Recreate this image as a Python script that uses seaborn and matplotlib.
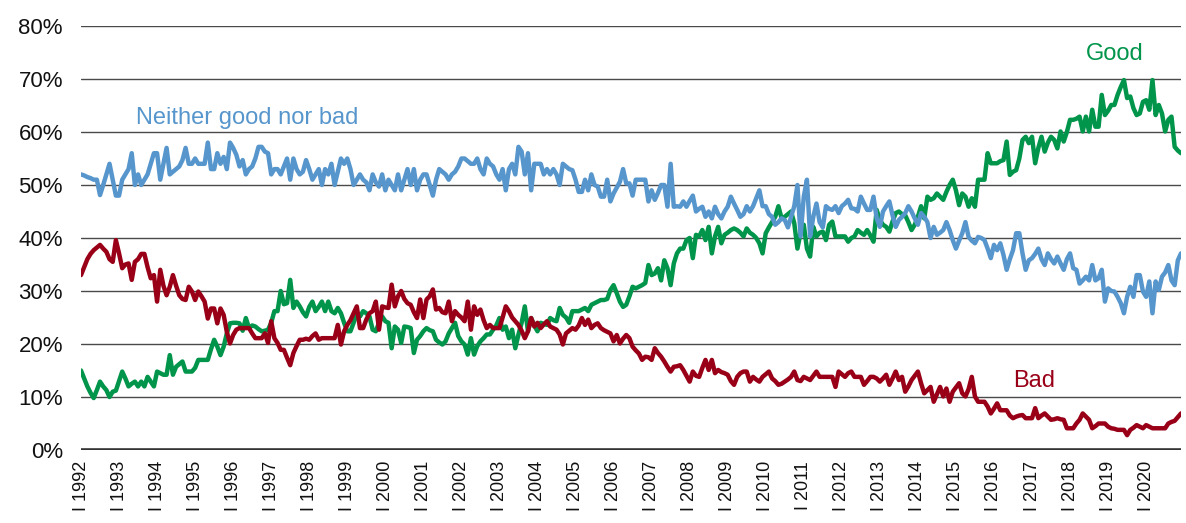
import numpy as np
import pandas as pd
import matplotlib
matplotlib.use("Agg")
import matplotlib.pyplot as plt
import seaborn as sns

# ---- data (monthly, Jan 1992 - Dec 2020), percent ----
good = [
    15, 13.5, 12, 10.8, 9.8, 11.3, 12.9, 12, 11.3, 10, 11, 11.2,
    13, 14.8, 13.5, 12, 12.5, 12.9, 12, 12.9, 12, 13.8, 12.9, 12,
    14.8, 14.5, 14.2, 14.2, 17.9, 14.2, 15.7, 16.2, 16.7, 14.8, 14.8, 14.8,
    15.5, 17, 17, 17, 17, 19, 20.8, 19.5, 17.9, 19.5, 22, 23.9,
    24, 24, 23.9, 22.5, 24.9, 23, 23.5, 23.3, 22.8, 22.4, 22.5, 22.7,
    24, 26.2, 26.2, 30, 27.5, 27.7, 32.1, 26.8, 28, 27.1, 26, 25.2,
    27, 28, 26.2, 27, 28, 26.2, 28, 26.2, 25.8, 26.8, 25.8, 24,
    22.4, 22.4, 24, 25.8, 25.2, 26.2, 25.8, 25.2, 22.7, 22.4, 24, 25.2,
    24.3, 24, 19.2, 23.3, 22.7, 20.2, 23.3, 23.2, 23, 18.3, 20.8, 21.5,
    22.4, 23, 22.6, 22.4, 20.8, 20.3, 19.9, 20.5, 22, 23, 24, 21.5,
    20.5, 19.9, 18, 21.1, 18, 19.6, 20.5, 21.1, 21.8, 21.8, 22.7, 23.5,
    24.9, 22.7, 23.3, 21.1, 22.7, 19.2, 21.8, 24, 27.1, 22.4, 24.9, 23.5,
    22.4, 24, 23.8, 23.6, 24.9, 24.5, 24.3, 26.8, 25.5, 25, 24, 26.2,
    26.2, 26.2, 26.5, 26.8, 26.2, 27.4, 27.7, 28, 28.3, 28.3, 28.5, 30.2,
    31.1, 29.6, 28, 27, 27.4, 29, 30.8, 30.5, 30.8, 31.1, 31.5, 34.9,
    33, 33.3, 34.3, 32, 35.8, 34.3, 31.1, 35.2, 37.1, 38, 38, 39.6,
    40, 36.2, 40.6, 40.3, 41.5, 39.6, 42.1, 37.1, 40.3, 42.1, 39, 40.6,
    41, 41.5, 41.8, 41.5, 41, 40.3, 41.8, 41, 40.6, 40, 39, 37.1,
    40.9, 42, 43, 44, 46, 43.7, 44, 44.5, 45, 42.8, 38, 41,
    42.5, 38, 36.5, 42.1, 40.3, 41, 41.2, 39.6, 42.5, 43.1, 40.3, 40.3,
    40.3, 40.3, 39.3, 40, 40.3, 41.5, 41, 40.6, 41.5, 40.5, 39.3, 45.3,
    43.4, 42.5, 42.1, 41.2, 43.1, 44.7, 45, 44.5, 44.3, 43, 41.5, 42.5,
    44, 46, 43.7, 47.8, 47.2, 47.5, 48.4, 47.8, 47.2, 48.7, 50, 51,
    49, 46.2, 48.4, 47.8, 45.9, 47.5, 45.9, 51, 51, 51, 56, 54.1,
    54.1, 54.1, 54.5, 54.7, 58.2, 51.9, 52.5, 52.8, 55, 58.5, 59.1, 57.9,
    59.1, 54.1, 57, 59.1, 56.3, 58, 59.1, 58.5, 56.9, 60.1, 58.2, 60,
    62.3, 62.3, 62.5, 62.9, 60.1, 62.9, 60.1, 64.2, 61, 61, 67, 63.2,
    64, 65.1, 65.1, 67, 68.5, 69.8, 66.4, 66.7, 64.5, 63.2, 63.5, 65.7,
    66, 64.2, 69.8, 63.2, 65.1, 63.5, 60.1, 62.3, 62.9, 57.2, 56.5, 56,
]

neither = [
    52, 51.8, 51.5, 51.3, 51, 51, 48.1, 50, 52, 54, 51, 48,
    48, 51, 52, 53, 56, 50, 52, 50, 51, 52, 54, 56,
    56, 51, 54, 57, 52, 52.5, 53, 53.5, 54.7, 57, 54, 54,
    55, 54, 54, 54, 58, 53, 53, 56, 54, 55.3, 53, 58,
    57, 55.7, 53.5, 54.7, 52, 53, 53.5, 55, 57.2, 57.2, 56.3, 56,
    52, 53, 53, 52, 53.5, 55, 51, 55, 53, 52, 52.5, 54.7,
    53, 51, 52, 53, 50, 53, 52, 54, 50, 52.5, 55, 54,
    55, 53, 50, 51, 52, 51, 50.5, 49, 52, 50.5, 49.7, 52,
    49, 51, 50, 49, 52, 49, 51, 53, 50, 53, 49, 51,
    52, 52, 50, 48, 51, 53, 52.5, 52, 51, 52, 52.5, 53.5,
    55, 55, 54.5, 54, 54, 55, 53, 52, 55, 54, 53.5, 52,
    51, 53, 49, 53, 54, 52, 57.2, 56.3, 52, 56, 49, 54,
    54, 54, 52, 53, 52, 53, 52, 50, 54, 53.5, 53, 52.8,
    51, 48.7, 48.7, 51, 49, 52, 50, 49.7, 47.8, 47.8, 51, 46.9,
    48.4, 49.5, 50.6, 53, 50.3, 50.3, 48, 51, 51, 51, 51, 46.9,
    49, 47.2, 48.5, 50, 50, 45.9, 54, 45.9, 46, 45.9, 46.9, 45.9,
    47, 48, 45, 45.5, 45.9, 44, 45, 43.7, 45.9, 44.5, 43.7, 45,
    45.9, 47.8, 46.5, 45.3, 44, 44.5, 46, 45, 46, 47.5, 49, 46,
    46, 44.5, 44, 42.5, 43, 43.7, 43.4, 42, 44, 46, 50, 40.3,
    47.8, 51, 40.3, 44, 46.5, 43, 42, 46, 45.5, 45.3, 46, 44.7,
    46, 46.5, 47.2, 45.6, 45.5, 45, 47.8, 46.5, 45.3, 45.3, 47.8, 43.7,
    42.1, 45, 46, 46.9, 44.3, 42.1, 43.4, 44, 44.7, 46, 45, 43.7,
    42.5, 44.7, 44, 43, 40, 42.1, 40.6, 41, 41.5, 43, 41.5, 39.6,
    38, 39.5, 40.9, 43, 40.2, 39.5, 39, 40.2, 40, 39.6, 38, 36.2,
    38.7, 37.7, 39, 36.8, 34, 36, 37.7, 40.9, 40.9, 37.1, 34, 35.8,
    36.2, 37, 38, 36, 34.9, 37.1, 36, 35.2, 36.5, 35.2, 34, 36,
    37.1, 34.3, 34, 31.4, 32, 32.7, 32, 34.9, 32, 32.4, 34, 28,
    30.5, 30, 29.9, 28.9, 27.7, 25.8, 28.9, 30.8, 28.9, 33, 33, 29.9,
    28.9, 31.8, 25.8, 31.8, 30.2, 32.7, 33.5, 34.9, 32, 31.1, 35.8, 37.1,
]

bad = [
    33, 34.5, 36, 37, 37.7, 38.2, 38.7, 38, 37.4, 36, 35.5, 39.6,
    37.1, 34.3, 35, 35.2, 32.1, 35.5, 36, 37, 37, 34.5, 32.4, 33,
    28, 34, 31, 29.2, 30.8, 33, 31, 29.2, 28.5, 28.3, 30.8, 29.9,
    28.3, 29.9, 29, 28, 24.8, 26.7, 26.7, 23.9, 26.7, 25.5, 22.3, 20.1,
    21.7, 22.7, 23, 23, 23, 23, 22, 21.1, 21.1, 21.1, 22, 20.2,
    24.3, 21.1, 20.2, 18.9, 18.9, 17.4, 16, 18.3, 19.6, 20.8, 20.8, 21,
    20.8, 21.5, 22, 20.8, 21.1, 21.1, 21.1, 21.1, 21.1, 23.6, 19.9, 22.4,
    23.6, 24.5, 25.8, 27.1, 23, 23, 24.6, 25.8, 26.2, 28, 22.7, 27.1,
    26.9, 26.8, 31.2, 27.1, 29, 30, 28.5, 27.7, 27.4, 26, 24.9, 28.4,
    24.9, 28.4, 29, 30.3, 26.5, 26.8, 26, 25.8, 28, 24.3, 26.2, 25.5,
    25, 24.3, 28, 22.7, 27.1, 25.5, 26.5, 24.5, 23, 23.6, 23, 23,
    23, 25, 27.1, 26.2, 25, 24.3, 23.6, 22.5, 21.1, 22.4, 24.9, 23.3,
    24, 23, 23.7, 24.3, 23.3, 23, 22.7, 21.8, 19.9, 22, 22.5, 23,
    22.7, 23.5, 24.9, 23.6, 24.6, 23, 23.6, 23.9, 23, 22.6, 22.3, 22,
    20.5, 21.7, 20.1, 21, 21.7, 21.1, 19.5, 18.8, 18.2, 17, 17.6, 17.5,
    17, 19.2, 18.3, 17.6, 16.7, 15.7, 14.8, 15.7, 15.8, 16, 15.1, 14,
    12.9, 14.8, 14, 13.8, 15.5, 17, 15.1, 17, 14.5, 15.1, 14.7, 14.5,
    14.2, 13, 12.3, 13.8, 14.5, 14.8, 14.8, 12.9, 13.8, 13.3, 12.9, 13.8,
    14.3, 14.8, 13.5, 13, 12.3, 12.5, 12.9, 13.3, 13.8, 14.8, 13.2, 13,
    13.8, 13.5, 13.2, 14, 14.8, 13.8, 13.8, 13.8, 13.8, 13.8, 11.9, 14.8,
    14.3, 13.8, 14.5, 14.8, 13.8, 13.8, 13.8, 12.3, 13, 13.8, 13.8, 13.5,
    12.9, 13.5, 14.2, 12.3, 13.5, 14.8, 13.2, 13.8, 11, 12, 13.2, 14,
    14.8, 12.6, 10.7, 11.3, 11.9, 9.1, 10.5, 11.9, 10.1, 11.6, 9.1, 11,
    11.8, 12.6, 10.7, 10.1, 11.5, 13.8, 10.1, 9.1, 9.1, 9.1, 8.2, 6.9,
    7.8, 8.8, 7.5, 7.5, 7.5, 6.5, 6, 6.3, 6.5, 6.6, 6, 6,
    6, 7.9, 6, 6.5, 6.9, 6.3, 5.7, 5.8, 6, 5.8, 5.7, 4.1,
    4.1, 4.1, 5, 5.7, 6.9, 6.3, 5.7, 4.1, 4.5, 5, 5, 5,
    4.4, 4.1, 4, 3.8, 3.8, 3.8, 2.8, 3.8, 4.2, 4.7, 4.4, 4.1,
    4.7, 4.4, 4.1, 4.1, 4.1, 4.1, 4.1, 5, 5.3, 5.5, 6.2, 6.9,
]

years = list(range(1992, 2021))
tick_labels = [f"I {y}" for y in years]
y_ticks = [0, 10, 20, 30, 40, 50, 60, 70, 80]
series_names = ["Good", "Neither good nor bad", "Bad"]

# ---- styling ----
c_good = "#00954A"
c_neither = "#5796CC"
c_bad = "#990018"

sns.set_style("white")
plt.rcParams["font.family"] = ["Liberation Sans", "DejaVu Sans"]

fig = plt.figure(figsize=(11.86, 5.23), dpi=100)
ax = fig.add_axes([81 / 1186, 73 / 523, 1100 / 1186, 424 / 523])

frames = []
for name, vals in zip(series_names, [good, neither, bad]):
    frames.append(pd.DataFrame({"month": np.arange(len(vals)), "value": vals, "series": name}))
df = pd.concat(frames, ignore_index=True)

# grid lines
for v in y_ticks[1:]:
    ax.axhline(v, color="#4a4a4a", lw=1.0, zorder=0)
ax.axhline(0, color="#333333", lw=2.6, zorder=5)

order = ["Good", "Bad", "Neither good nor bad"]
colors = {"Good": c_good, "Bad": c_bad, "Neither good nor bad": c_neither}
for i, name in enumerate(order):
    sub = df[df["series"] == name]
    sns.lineplot(data=sub, x="month", y="value", color=colors[name], lw=3.2,
                 ax=ax, legend=False, zorder=2 + i)

n = len(good)
ax.set_xlim(0, n - 1)
ax.set_ylim(0, 80)
ax.set_xticks([12 * i for i in range(len(years))])
ax.set_xticklabels(tick_labels, rotation=90, fontsize=13, color="#111111")
ax.set_yticks(y_ticks)
ax.set_yticklabels([f"{v}%" for v in y_ticks], fontsize=16, color="#111111")
ax.tick_params(axis="y", length=0, pad=13)
ax.tick_params(axis="x", length=0, pad=8)
ax.set_xlabel("")
ax.set_ylabel("")
for s in ax.spines.values():
    s.set_visible(False)

ax.text(52.4, 61.5, "Neither good nor bad", color=c_neither, fontsize=17,
        ha="center", va="baseline")
ax.text(326, 73.5, "Good", color=c_good, fontsize=17, ha="center", va="baseline")
ax.text(300.6, 11.9, "Bad", color=c_bad, fontsize=17, ha="center", va="baseline")

fig.savefig("out.png", dpi=100)
